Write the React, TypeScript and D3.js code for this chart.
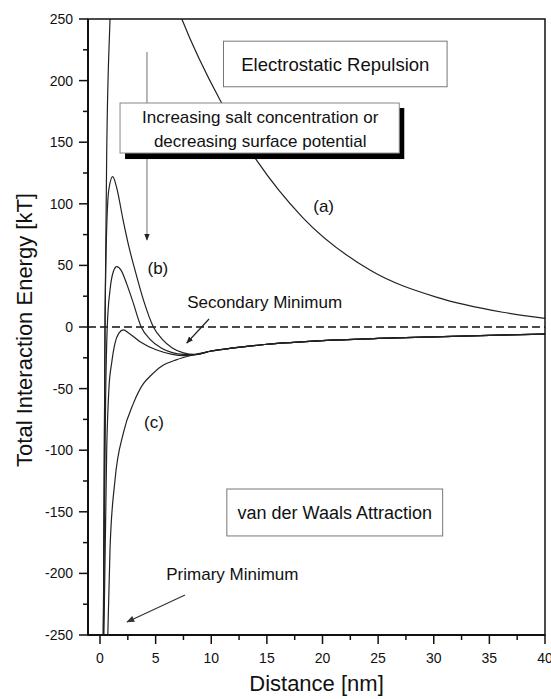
import React from "react";
import * as d3 from "d3";

// ---- data ----
const xTicksMajor = [0, 5, 10, 15, 20, 25, 30, 35, 40];
const yTicksMajor = [-250, -200, -150, -100, -50, 0, 50, 100, 150, 200, 250];

// (a) high barrier curve
const curveA: [number, number][] = [
  [0.3, -250], [0.45, 0], [0.6, 140], [0.9, 250], [1.3, 330], [2, 360], [3, 350],
  [5, 310], [7.4, 249], [10.8, 184], [14.1, 135], [18.2, 89], [24.3, 46],
  [30.3, 24], [36.2, 12], [40, 7],
];
// (b) family: barrier 122
const curveB1: [number, number][] = [
  [0.3, -250], [0.45, 0], [0.6, 80], [0.8, 112], [1.14, 122], [1.5, 113],
  [2.07, 87], [2.6, 65], [3.15, 46], [3.9, 22], [4.8, 0], [5.6, -10],
  [6.5, -17], [7.5, -21], [8.5, -22.3],
];
// barrier 49
const curveB2: [number, number][] = [
  [0.3, -250], [0.5, -60], [0.65, 0], [0.9, 30], [1.2, 45], [1.5, 49], [1.9, 46],
  [2.4, 35], [2.9, 22], [3.7, 0], [4.5, -10], [5.5, -17], [6.5, -20.8],
  [7.5, -22.3], [8.5, -22.5],
];
// barrier just below zero
const curveB3: [number, number][] = [
  [0.35, -250], [0.6, -100], [0.8, -50], [1.05, -29], [1.35, -13], [1.7, -5],
  [2.1, -2.4], [2.6, -5], [3.6, -12], [5.1, -18.7], [6.5, -22.2], [7.5, -23.2],
  [8.5, -22.6],
];
// (c) pure attraction
const curveC: [number, number][] = [
  [0.7, -250], [0.9, -180], [1.35, -124], [2.1, -86], [3, -62], [3.9, -46],
  [4.5, -40], [5.5, -32], [6.9, -26.5], [8, -23.5],
];
// common tail
const tail: [number, number][] = [
  [10, -19.5], [12, -17], [15, -14], [20, -11], [25, -9.3], [30, -8], [35, -6.8], [40, -5.8],
];

const W = 551, H = 699;
const L = 88, R = 545, T = 19, B = 635;
const FONT = "'Liberation Sans', Arial, Helvetica, sans-serif";

export default function App() {
  const x = d3.scaleLinear().domain([-1.08, 40]).range([L, R]);
  const y = d3.scaleLinear().domain([-250, 250]).range([B, T]);
  const line = d3.line<[number, number]>().x(d => x(d[0])).y(d => y(d[1])).curve(d3.curveMonotoneX);

  const xMinor = d3.range(2.5, 40, 5);
  const yMinor = d3.range(-225, 250, 50);

  const curves = [curveA, curveB1.concat(tail), curveB2.concat(tail), curveB3.concat(tail), curveC.concat(tail)];

  const incr = { x0: 1.8, x1: 26.9, y0: 181.8, y1: 141.2 };
  const elec = { x0: 11.1, x1: 31.2, y0: 232, y1: 195 };
  const vdw = { x0: 11.4, x1: 30.8, y0: -131.5, y1: -169.6 };

  return (
    <svg width={W} height={H} style={{ position: "absolute", left: 0, top: 0, background: "#fff" }} fontFamily={FONT}>
      <defs>
        <clipPath id="plot"><rect x={L} y={T} width={R - L} height={B - T} /></clipPath>
        <marker id="ah" viewBox="0 0 10 10" refX="9" refY="5" markerWidth="7" markerHeight="7" orient="auto" markerUnits="userSpaceOnUse">
          <path d="M0,1 L10,5 L0,9 z" fill="#222" />
        </marker>
        <marker id="ahBig" viewBox="0 0 10 10" refX="9" refY="5" markerWidth="10" markerHeight="8" orient="auto" markerUnits="userSpaceOnUse">
          <path d="M0,1 L10,5 L0,9 z" fill="#333" />
        </marker>
      </defs>

      {/* zero dashed line */}
      <line x1={L} x2={R} y1={y(0)} y2={y(0)} stroke="#111" strokeWidth={1.4} strokeDasharray="8,4" />

      {/* curves */}
      <g clipPath="url(#plot)">
        {curves.map((c, i) => (
          <path key={i} d={line(c) || ""} fill="none" stroke="#222" strokeWidth={1.2} />
        ))}
      </g>

      {/* Electrostatic Repulsion box */}
      <rect x={x(elec.x0)} y={y(elec.y0)} width={x(elec.x1) - x(elec.x0)} height={y(elec.y1) - y(elec.y0)} fill="#fff" stroke="#777" strokeWidth={1} />
      <text x={x((elec.x0 + elec.x1) / 2)} y={y(207.8)} textAnchor="middle" fontSize={18.5} fill="#111">Electrostatic Repulsion</text>

      {/* arrow of increasing salt */}
      <line x1={x(4.22)} x2={x(4.22)} y1={y(223.2)} y2={y(70.6)} stroke="#888" strokeWidth={1.2} markerEnd="url(#ah)" />

      {/* Increasing box with shadow */}
      <rect x={x(incr.x0) + 5} y={y(incr.y0) + 5} width={x(incr.x1) - x(incr.x0)} height={y(incr.y1) - y(incr.y0) + 1} fill="#000" />
      <rect x={x(incr.x0)} y={y(incr.y0)} width={x(incr.x1) - x(incr.x0)} height={y(incr.y1) - y(incr.y0)} fill="#fff" stroke="#888" strokeWidth={1} />
      <text x={x(14.4)} y={y(165.6)} textAnchor="middle" fontSize={17} fill="#111">Increasing salt concentration or</text>
      <text x={x(14.4)} y={y(146.1)} textAnchor="middle" fontSize={17} fill="#111">decreasing surface potential</text>

      {/* van der Waals box */}
      <rect x={x(vdw.x0)} y={y(vdw.y0)} width={x(vdw.x1) - x(vdw.x0)} height={y(vdw.y1) - y(vdw.y0)} fill="#fff" stroke="#777" strokeWidth={1} />
      <text x={x((vdw.x0 + vdw.x1) / 2)} y={y(-155.8)} textAnchor="middle" fontSize={18} fill="#111">van der Waals Attraction</text>

      {/* curve labels */}
      <text x={x(20.1)} y={y(93.3)} textAnchor="middle" fontSize={17} fill="#111">(a)</text>
      <text x={x(5.2)} y={y(43)} textAnchor="middle" fontSize={17} fill="#111">(b)</text>
      <text x={x(4.85)} y={y(-82)} textAnchor="middle" fontSize={17} fill="#111">(c)</text>

      {/* Secondary minimum */}
      <text x={x(14.8)} y={y(15.4)} textAnchor="middle" fontSize={17} fill="#111">Secondary Minimum</text>
      <line x1={x(9.8)} y1={y(6.5)} x2={x(7.8)} y2={y(-13)} stroke="#222" strokeWidth={1.2} markerEnd="url(#ah)" />

      {/* Primary minimum */}
      <text x={x(11.9)} y={y(-205)} textAnchor="middle" fontSize={17} fill="#111">Primary Minimum</text>
      <line x1={x(7.64)} y1={y(-217.5)} x2={x(2.43)} y2={y(-239.4)} stroke="#333" strokeWidth={1.2} markerEnd="url(#ahBig)" />

      {/* frame */}
      <rect x={L} y={T} width={R - L} height={B - T} fill="none" stroke="#111" strokeWidth={1.5} />
      <line x1={L} x2={L} y1={T} y2={B} stroke="#111" strokeWidth={2} />
      <line x1={L} x2={R} y1={B} y2={B} stroke="#111" strokeWidth={2} />

      {/* y ticks */}
      {yTicksMajor.map(v => (
        <g key={"y" + v}>
          <line x1={L - 9} x2={L} y1={y(v)} y2={y(v)} stroke="#111" strokeWidth={1.5} />
          <text x={L - 15} y={y(v) + 5} textAnchor="end" fontSize={14} fill="#111">{v}</text>
        </g>
      ))}
      {yMinor.map(v => (
        <line key={"ym" + v} x1={L - 5} x2={L} y1={y(v)} y2={y(v)} stroke="#111" strokeWidth={1.5} />
      ))}
      {/* x ticks */}
      {xTicksMajor.map(v => (
        <g key={"x" + v}>
          <line x1={x(v)} x2={x(v)} y1={B} y2={B + 9} stroke="#111" strokeWidth={1.5} />
          <text x={x(v)} y={663} textAnchor="middle" fontSize={14} fill="#111">{v}</text>
        </g>
      ))}
      {xMinor.map(v => (
        <line key={"xm" + v} x1={x(v)} x2={x(v)} y1={B} y2={B + 5} stroke="#111" strokeWidth={1.5} />
      ))}

      {/* axis titles */}
      <text x={(L + R) / 2} y={691} textAnchor="middle" fontSize={22} fill="#111">Distance [nm]</text>
      <text transform={`translate(32, ${(T + B) / 2 + 3}) rotate(-90)`} textAnchor="middle" fontSize={22} fill="#111">Total Interaction Energy [kT]</text>
    </svg>
  );
}
